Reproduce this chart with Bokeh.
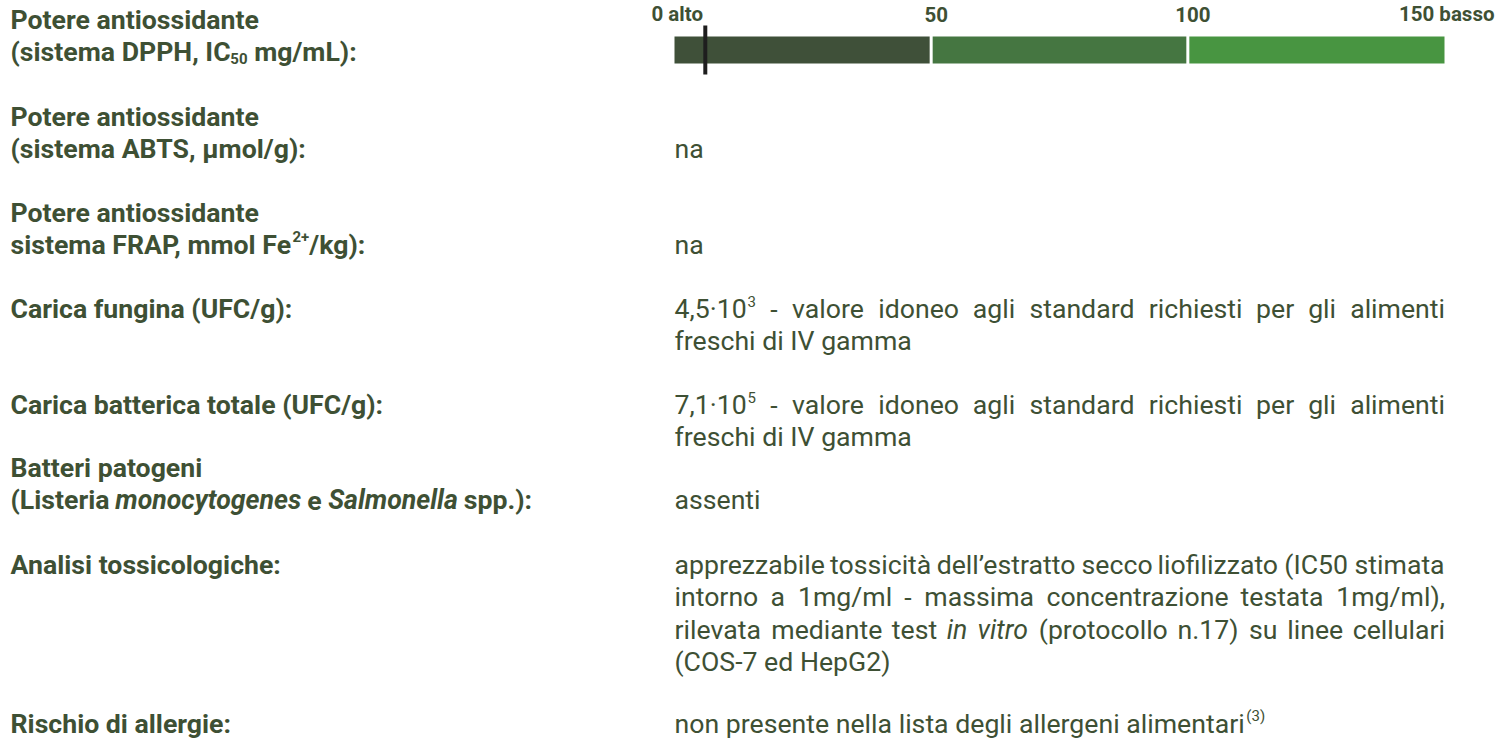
from bokeh.plotting import figure
from bokeh.models import Range1d, ColumnDataSource
from bokeh.embed import file_html
from bokeh.resources import INLINE
from bokeh.core.properties import value

# ---------------- data ----------------
scale_ticks = [0, 50, 100, 150]
scale_tick_labels = ["0 alto", "50", "100", "150 basso"]
band_start = [0, 50, 100]
band_end = [50, 100, 150]
band_colors = ["#3f5039", "#457641", "#489541"]
dpph_ic50 = [6]

row_labels = [
    [[("Potere antiossidante", "b")],
     [("(sistema DPPH, IC", "b"), ("50", "bsub"), (" mg/mL):", "b")]],
    [[("Potere antiossidante", "b")],
     [("(sistema ABTS, µmol/g):", "b")]],
    [[("Potere antiossidante", "b")],
     [("sistema FRAP, mmol Fe", "b"), ("2+", "bsup"), ("/kg):", "b")]],
    [[("Carica fungina (UFC/g):", "b")]],
    [[("Carica batterica totale (UFC/g):", "b")]],
    [[("Batteri patogeni", "b")],
     [("(Listeria ", "b"), ("monocytogenes", "bi"), (" e ", "b"),
      ("Salmonella", "bi"), (" spp.):", "b")]],
    [[("Analisi tossicologiche:", "b")]],
    [[("Rischio di allergie:", "b")]],
]

# each value line: (runs, justified)
row_values = [
    [],
    [([("na", "n")], False)],
    [([("na", "n")], False)],
    [([("4,5·10", "n"), ("3", "sup"),
       (" - valore idoneo agli standard richiesti per gli alimenti", "n")], True),
     ([("freschi di IV gamma", "n")], False)],
    [([("7,1·10", "n"), ("5", "sup"),
       (" - valore idoneo agli standard richiesti per gli alimenti", "n")], True),
     ([("freschi di IV gamma", "n")], False)],
    [([("assenti", "n")], False)],
    [([("apprezzabile tossicità dell’estratto secco liofilizzato (IC50 stimata", "n")], True),
     ([("intorno a 1mg/ml - massima concentrazione testata 1mg/ml),", "n")], True),
     ([("rilevata mediante test ", "n"), ("in vitro", "i"),
       (" (protocollo n.17) su linee cellulari", "n")], True),
     ([("(COS-7 ed HepG2)", "n")], False)],
    [([("non presente nella lista degli allergeni alimentari", "n"), (" (3)", "sup")], False)],
]

# ---------------- layout ----------------
W, H = 1499, 738
LABEL_X = 10
VALUE_X0, VALUE_X1 = 674, 1444
row_baseline = [19.5, 116.5, 212.5, 308.5, 404.5, 467.5, 564.5, 723]
value_line_start = [0, 1, 1, 0, 0, 1, 0, 0]
LH = 32.3
FS = 26.67
SS = 15
TEXT_COLOR = "#3e5034"

W_REG = {' ': .248, '(': .342, ')': .348, ',': .192, '-': .270, '.': .257, '/': .402,
         ':': .236, '·': .263, '’': .196, '+': .555, 'µ': .568, 'à': .544,
         'A': .652, 'B': .623, 'C': .651, 'D': .656, 'E': .568, 'F': .553, 'G': .681,
         'H': .713, 'I': .272, 'L': .539, 'M': .873, 'N': .713, 'O': .688, 'P': .631,
         'S': .594, 'T': .597, 'U': .648, 'V': .637,
         'a': .544, 'b': .548, 'c': .511, 'd': .551, 'e': .517, 'f': .346, 'g': .548,
         'h': .538, 'i': .237, 'j': .233, 'k': .495, 'l': .237, 'm': .856, 'n': .539,
         'o': .557, 'p': .548, 'q': .554, 'r': .331, 's': .504, 't': .319, 'u': .538,
         'v': .473, 'w': .735, 'x': .484, 'y': .462, 'z': .484}
W_BOLD = {' ': .248, '(': .343, ')': .348, ',': .225, '.': .272, '/': .398, ':': .26,
          '+': .548, 'µ': .56,
          'A': .662, 'B': .631, 'C': .645, 'D': .651, 'F': .554, 'H': .699, 'I': .281,
          'L': .534, 'P': .63, 'R': .623, 'S': .601, 'T': .607, 'U': .645,
          'a': .533, 'b': .548, 'c': .515, 'd': .550, 'e': .521, 'f': .347, 'g': .554,
          'h': .544, 'i': .253, 'l': .253, 'm': .859, 'n': .544, 'o': .558, 'p': .548,
          'r': .344, 's': .514, 't': .327, 'u': .544, 'y': .483}
for d in "0123456789":
    W_REG[d] = .5615
    W_BOLD[d] = .5615

KIND = {
    "n":    dict(style="normal", size=FS, dy=0, dx=0, table=W_REG, k=1.015),
    "i":    dict(style="italic", size=FS, dy=0, dx=0, table=W_REG, k=1.0),
    "sup":  dict(style="normal", size=SS, dy=-8, dx=0, table=W_REG, k=1.0),
    "b":    dict(style="bold", size=FS, dy=0, dx=0, table=W_BOLD, k=1.015),
    "bi":   dict(style="bold italic", size=FS, dy=0, dx=0, table=W_BOLD, k=0.985),
    "bsub": dict(style="bold", size=SS, dy=6, dx=0, table=W_BOLD, k=1.015),
    "bsup": dict(style="bold", size=SS, dy=-9, dx=-4, table=W_BOLD, k=1.015),
}


def run_width(t, kind):
    k = KIND[kind]
    return sum(k["table"].get(ch, .55) for ch in t) * k["size"] * k["k"]


def emit(out, kind, x, y, t):
    out.setdefault(kind, {"x": [], "y": [], "text": []})
    out[kind]["x"].append(x)
    out[kind]["y"].append(y + KIND[kind]["dy"])
    out[kind]["text"].append(t)


def layout_line(runs, x0, x1, justify, y, out):
    if not justify:
        x = x0
        for text, kind in runs:
            sp = run_width(" ", kind)
            lead = len(text) - len(text.lstrip(" "))
            trail = len(text) - len(text.rstrip(" "))
            x += lead * sp + KIND[kind]["dx"]
            core = text.strip(" ")
            if core:
                emit(out, kind, x, y, core)
                x += run_width(core, kind)
            x += trail * sp
        return
    words, cur = [], []
    for text, kind in runs:
        parts = text.split(" ")
        for j, part in enumerate(parts):
            if j > 0:
                if cur:
                    words.append(cur)
                cur = []
            if part:
                cur.append((part, kind))
    if cur:
        words.append(cur)
    widths = [sum(run_width(t, k) for t, k in w) for w in words]
    gap = (x1 - x0 - sum(widths)) / (len(words) - 1)
    x = x0
    for w in words:
        for t, k in w:
            emit(out, k, x, y, t)
            x += run_width(t, k)
        x += gap


pieces = {}
for i, lines in enumerate(row_labels):
    for j, runs in enumerate(lines):
        layout_line(runs, LABEL_X, LABEL_X, False, row_baseline[i] + j * LH, pieces)
for i, lines in enumerate(row_values):
    for j, (runs, just) in enumerate(lines):
        y = row_baseline[i] + (value_line_start[i] + j) * LH
        layout_line(runs, VALUE_X0, VALUE_X1, just, y, pieces)

p = figure(width=W, height=H, output_backend="svg", toolbar_location=None,
           x_range=Range1d(0, W), y_range=Range1d(H, 0),
           x_axis_location=None, y_axis_location=None, min_border=0,
           background_fill_color="white", border_fill_color="white")
p.outline_line_color = None
p.grid.visible = False

# scale range mapping 0 -> x=674 and 150 -> x=1444 on the page
span = (scale_ticks[-1] - scale_ticks[0]) * W / (VALUE_X1 - VALUE_X0)
s0 = scale_ticks[0] - VALUE_X0 / W * span
p.extra_x_ranges = {"scale": Range1d(s0, s0 + span)}

p.quad(left=band_start, right=band_end, top=36, bottom=63, fill_color=band_colors,
       line_color=None, x_range_name="scale")
p.segment(x0=band_start[1:], x1=band_start[1:], y0=35, y1=64, line_color="white",
          line_width=3, x_range_name="scale")
p.segment(x0=dpph_ic50, x1=dpph_ic50, y0=25, y1=74, line_color="#1e1e1e",
          line_width=4, x_range_name="scale")

tick_src = ColumnDataSource(dict(
    x=scale_ticks, y=[13.5] * 4, text=scale_tick_labels,
    xo=[-23, 5, 5, 50], al=["left", "center", "center", "right"]))
p.text(x="x", y="y", text="text", x_offset="xo", text_align="al", source=tick_src,
       x_range_name="scale", text_font=value("Roboto"), text_font_style="bold",
       text_font_size="20.5px", text_color=TEXT_COLOR, text_baseline="alphabetic")

for kind, d in pieces.items():
    k = KIND[kind]
    p.text(x="x", y="y", text="text", source=ColumnDataSource(d),
           text_font=value("Roboto"), text_font_style=k["style"],
           text_font_size=f"{k['size']}px", text_color=TEXT_COLOR,
           text_align="left", text_baseline="alphabetic")

open("out.html", "w").write(file_html(p, INLINE))
